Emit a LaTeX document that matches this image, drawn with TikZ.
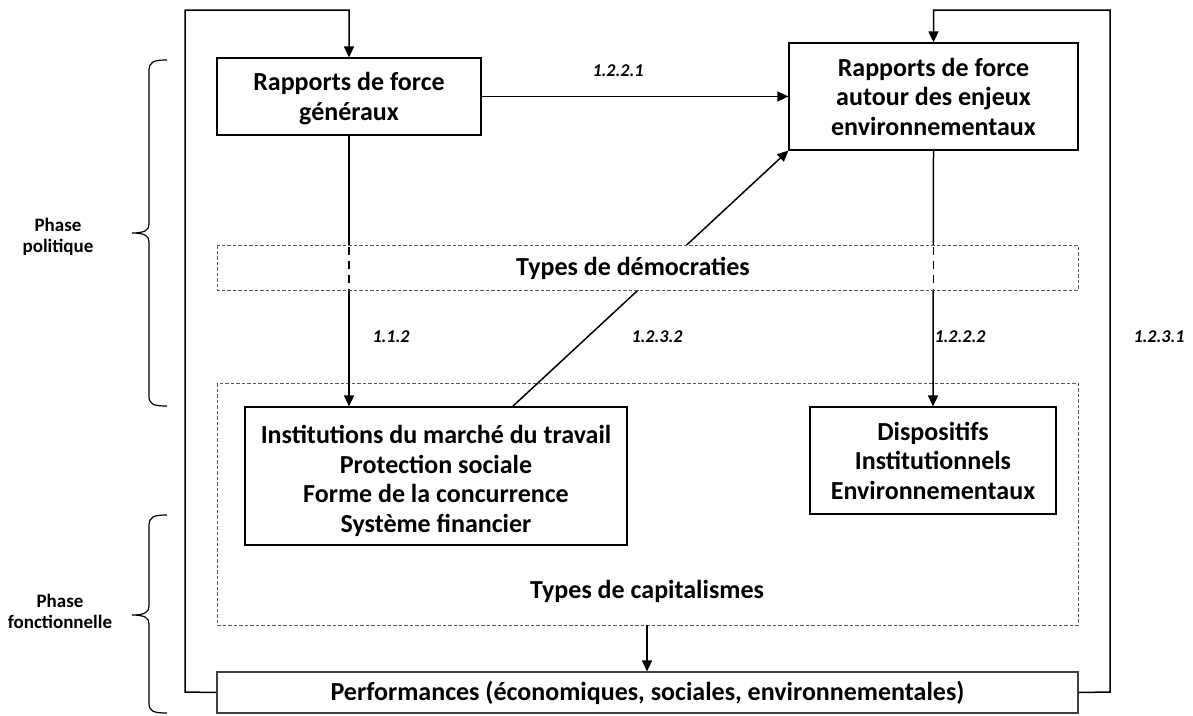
\documentclass[tikz,border=0pt]{standalone}
\usepackage{fontspec}
\setmainfont{Carlito}
\usetikzlibrary{arrows.meta}
\newcommand{\lowered}[2]{\raisebox{-#1}[\height][\depth]{\begin{tabular}{@{}c@{}}#2\end{tabular}}}
\begin{document}
\begin{tikzpicture}[x=1pt,y=-1pt,
  box/.style={draw=black,line width=1.2pt,fill=white,inner sep=0pt,font=\bfseries\fontsize{26}{29.5}\selectfont,align=center},
  band/.style={draw=black!65,dashed,dash pattern=on 3.5pt off 2pt,line width=0.9pt},
  lab/.style={font=\bfseries\itshape\fontsize{18}{20}\selectfont},
  side/.style={font=\bfseries\fontsize{19}{21}\selectfont,align=center},
  arr/.style={-{Triangle[length=11pt,width=10pt]},line width=1.5pt},
  br/.style={line width=1.2pt}]
\useasboundingbox (0,0) rectangle (1193,715);
% bands
\draw[band] (217,383) rectangle (1078,625);
\node[font=\bfseries\fontsize{26}{29.5}\selectfont] (cap) at (647,591) {Types de capitalismes};
% boxes
\node[box,minimum width=264pt,minimum height=77pt] (A) at (349,96.5) {\lowered{3pt}{Rapports de force\\g\'en\'eraux}};
\node[box,minimum width=289pt,minimum height=107pt] (B) at (933.5,96.5) {Rapports de force\\autour des enjeux\\environnementaux};
\node[box,minimum width=382pt,minimum height=138pt] (I) at (436,476) {\lowered{6pt}{Institutions du march\'e du travail\\Protection sociale\\Forme de la concurrence\\Syst\`eme financier}};
\node[box,minimum width=246pt,minimum height=107pt] (D) at (933,460.5) {Dispositifs\\Institutionnels\\Environnementaux};
\node[box,draw=black!75,minimum width=861pt,minimum height=41pt] (P) at (647.5,692.5) {Performances (\'economiques, sociales, environnementales)};
% arrows
\draw[arr] (A.east) -- (B.west);
\draw[arr] (A.south) -- (I.north -| A.south);
\draw[arr] (B.south) -- (D.north);
\draw[arr] (512,407) coordinate (dI) -- (B.south west);
\coordinate (capb) at (647,625);
\draw[arr] (capb) -- (P.north -| capb);
% feedback loops
\coordinate (L1) at (185,692);
\coordinate (L2) at (185,10);
\coordinate (L3) at (349,10);
\draw[arr] (P.west) -- (L1) -- (L2) -- (L3) -- (A.north);
\coordinate (R1) at (1110,692);
\coordinate (R2) at (1110,10);
\coordinate (R3) at (933.5,10);
\draw[arr] (P.east) -- (R1) -- (R2) -- (R3) -- (B.north);
% democraties band over arrows
\draw[band,fill=white] (217,245) rectangle (1078,290);
\node[font=\bfseries\fontsize{26}{29.5}\selectfont] (dem) at (633,268) {Types de d\'emocraties};
\draw[line width=1.3pt,dash pattern=on 8pt off 6pt] (349,247) -- (349,290);
\draw[line width=1.3pt,dash pattern=on 8pt off 6pt] (933.5,247) -- (933.5,290);
% labels
\node[lab] (l1) at (618,71) {1.2.2.1};
\node[lab] (l2) at (391,337) {1.1.2};
\node[lab] (l3) at (657,337) {1.2.3.2};
\node[lab] (l4) at (960,337) {1.2.2.2};
\node[lab] (l5) at (1159,337) {1.2.3.1};
% braces
\draw[br] (167,60) .. controls (153,60) and (149,62) .. (149,71) -- (149,224)
  .. controls (149,230) and (145,233) .. (132,233)
  .. controls (145,233) and (149,236) .. (149,242) -- (149,396)
  .. controls (149,404) and (153,406) .. (167,406);
\draw[br] (167,515) .. controls (153,515) and (149,517) .. (149,526) -- (149,606)
  .. controls (149,612) and (145,615) .. (132,615)
  .. controls (145,615) and (149,618) .. (149,624) -- (149,703)
  .. controls (149,711) and (153,713) .. (167,713);
\node[side] (pp) at (58,237) {Phase\\politique};
\node[side] (pf) at (60,611) {Phase\\fonctionnelle};
\end{tikzpicture}
\end{document}
